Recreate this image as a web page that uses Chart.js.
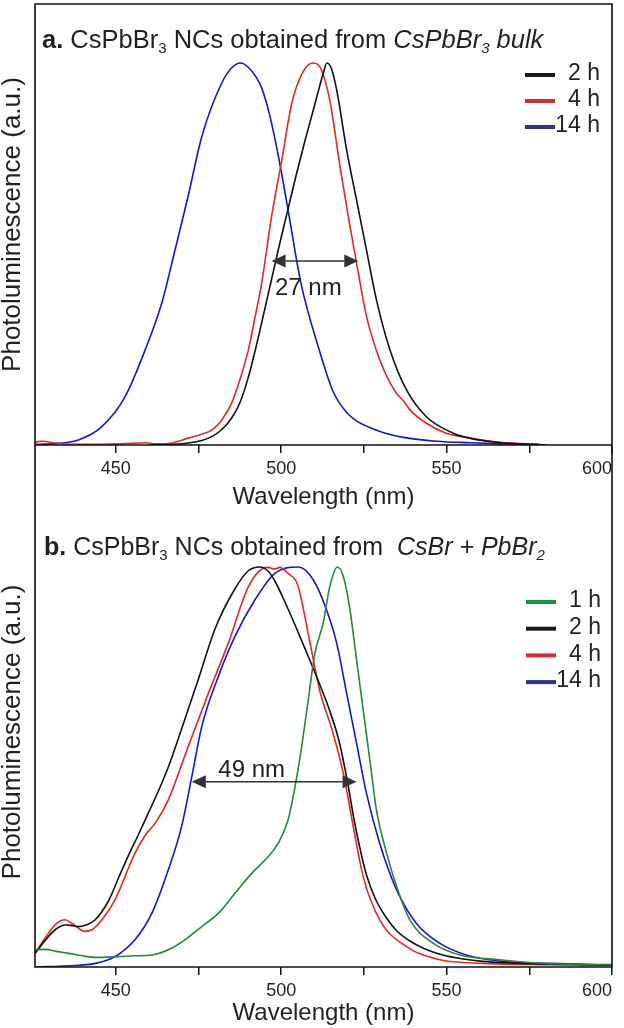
<!DOCTYPE html>
<html>
<head>
<meta charset="utf-8">
<script src="https://cdn.jsdelivr.net/npm/chart.js@4.4.1/dist/chart.umd.min.js"></script>
<style>
  body { margin: 0; background: #fff; }
  #wrap { position: relative; width: 624px; height: 1028px; }
  canvas { position: absolute; left: 0; }
</style>
</head>
<body>
<div id="wrap">
  <canvas id="chartA" width="624" height="530" style="top:0"></canvas>
  <canvas id="chartB" width="624" height="588" style="top:440px"></canvas>
</div>
<script>
const FONT = "'Liberation Sans', Arial, Helvetica, sans-serif";
const TEXT = '#231f20';

const xTicks = [450, 475, 500, 525, 550, 575, 600];
const xLabelled = [450, 500, 550, 600];

// panel a : CsPbBr3 bulk
const aLabels = ['2 h', '4 h', '14 h'];
const a2hNm = [460, 466, 470.9, 476, 479, 482, 485, 487.5, 490, 492.5, 494.5, 497, 499.5, 502, 504.5, 507, 509.5, 511.5, 512.8, 513.8, 515.2, 516.8, 519.8, 522.8, 525.8, 528.8, 532.9, 537.9, 543.9, 552, 557, 565, 572, 580];
const a2hPL = [0, 0.001, 0.004, 0.012, 0.022, 0.04, 0.07, 0.11, 0.175, 0.26, 0.335, 0.43, 0.525, 0.615, 0.705, 0.79, 0.87, 0.935, 0.975, 1.0, 0.985, 0.929, 0.772, 0.641, 0.51, 0.38, 0.249, 0.144, 0.074, 0.031, 0.018, 0.007, 0.003, 0];
const a4hNm = [425.6, 428, 431, 436, 445, 452, 459, 462, 466, 471.9, 476, 479, 482, 485, 487.5, 490.1, 492, 494.1, 497.1, 500.2, 503.2, 506.5, 509.7, 512, 514.7, 517.8, 520.3, 522.8, 525.8, 529.8, 532.5, 534.9, 537, 538.9, 543.9, 549.9, 557, 565, 572, 578];
const a4hPL = [0.008, 0.01, 0.006, 0.002, 0.002, 0.003, 0.006, 0.003, 0.004, 0.018, 0.028, 0.039, 0.065, 0.109, 0.17, 0.249, 0.33, 0.423, 0.598, 0.746, 0.894, 0.975, 1.0, 0.985, 0.903, 0.729, 0.598, 0.476, 0.336, 0.223, 0.17, 0.135, 0.115, 0.092, 0.057, 0.031, 0.018, 0.008, 0.004, 0.002];
const a14hNm = [425.6, 430.7, 438.7, 445.8, 452.8, 458.9, 463.9, 467.9, 471.9, 476, 482, 485, 487.8, 490.5, 492.5, 494.1, 496.5, 499.3, 502.1, 506, 511.5, 515.7, 519.8, 523, 527, 531, 536.9, 547, 557, 567, 578];
const a14hPL = [0.002, 0.003, 0.013, 0.048, 0.126, 0.249, 0.371, 0.51, 0.652, 0.807, 0.947, 0.987, 1.0, 0.985, 0.962, 0.935, 0.865, 0.75, 0.615, 0.423, 0.249, 0.14, 0.085, 0.062, 0.045, 0.032, 0.02, 0.01, 0.006, 0.003, 0.001];

// panel b : CsBr + PbBr2
const bLabels = ['1 h', '2 h', '4 h', '14 h'];
const b1hNm = [425.6, 428.6, 432, 435.7, 440, 443.8, 450.8, 455.8, 460.9, 465.9, 470.9, 476, 481, 486, 491.1, 496.1, 499.1, 502.1, 504.2, 506.2, 508.2, 510.2, 512.7, 514.7, 517, 518.8, 520.8, 522.8, 524.8, 526.8, 528.8, 531.9, 534.9, 538.9, 546, 554, 566, 581, 600];
const b1hPL = [0.043, 0.044, 0.039, 0.034, 0.028, 0.024, 0.026, 0.028, 0.03, 0.043, 0.068, 0.101, 0.134, 0.184, 0.234, 0.276, 0.309, 0.368, 0.451, 0.551, 0.668, 0.784, 0.86, 0.951, 1.0, 0.976, 0.893, 0.768, 0.643, 0.518, 0.393, 0.284, 0.201, 0.118, 0.059, 0.03, 0.018, 0.008, 0.006];
const b2hNm = [425.6, 429.6, 432, 434.7, 436.5, 438.7, 441, 443.8, 447.8, 450.8, 453.8, 456.8, 459.8, 462.9, 465.9, 469.9, 475, 480, 486, 490, 493.6, 496, 498.1, 501, 504.2, 507.5, 511, 514.5, 517.5, 520, 522, 524, 525.8, 528.5, 531.9, 535, 538.9, 543, 548, 555, 561, 576, 600];
const b2hPL = [0.034, 0.076, 0.095, 0.105, 0.104, 0.101, 0.105, 0.118, 0.165, 0.222, 0.278, 0.33, 0.384, 0.44, 0.5, 0.595, 0.72, 0.845, 0.945, 0.99, 1.0, 0.99, 0.965, 0.915, 0.855, 0.79, 0.72, 0.645, 0.565, 0.465, 0.37, 0.29, 0.23, 0.17, 0.122, 0.09, 0.065, 0.047, 0.032, 0.02, 0.014, 0.008, 0.005];
const b4hNm = [425.6, 429.6, 432, 434.7, 437, 440.7, 442.8, 446, 449.8, 455.8, 459, 461.9, 465.9, 471.9, 478, 484, 490.1, 494.6, 496.1, 498, 499.6, 502.1, 505, 508.5, 511.7, 515.5, 518.8, 521.8, 524.8, 529.8, 537.9, 548, 561, 580, 600];
const b4hPL = [0.034, 0.084, 0.108, 0.118, 0.108, 0.089, 0.093, 0.12, 0.168, 0.284, 0.33, 0.359, 0.418, 0.551, 0.684, 0.809, 0.951, 0.997, 0.999, 0.995, 0.999, 0.984, 0.955, 0.82, 0.69, 0.59, 0.484, 0.351, 0.226, 0.118, 0.051, 0.018, 0.009, 0.006, 0.005];
const b14hNm = [425.6, 435.7, 443.8, 449.8, 455.8, 460.9, 465.9, 469.9, 473, 476, 481, 486, 492.1, 498.1, 505.2, 509.7, 513.7, 516.8, 519.8, 522.8, 525.8, 529.8, 534.9, 540.9, 548, 556, 566, 581, 600];
const b14hPL = [0, 0.003, 0.009, 0.026, 0.068, 0.134, 0.243, 0.351, 0.476, 0.601, 0.726, 0.826, 0.918, 0.984, 1.0, 0.968, 0.893, 0.809, 0.684, 0.559, 0.434, 0.309, 0.193, 0.109, 0.059, 0.03, 0.015, 0.009, 0.005];

// FWHM arrows: [from nm, to nm, level, label, label nm, label level]
const aArrow = [497.1, 523.3, 0.482, '27 nm', 508.2, 0.393];
const bArrow = [473, 522.8, 0.463, '49 nm', 491.1, 0.475];

const pts = (nm, pl) => nm.map((x, i) => ({ x, y: pl[i] }));

function line(label, nm, pl, color, legendColor) {
	return {
		label,
		data: pts(nm, pl),
		borderColor: color,
		legendColor,
		borderWidth: 1.6,
		pointRadius: 0,
		cubicInterpolationMode: 'monotone',
		fill: false,
	};
}

const panelPlugin = {
	id: 'panel',
	afterDraw( chart, args, o ) {
		const { ctx, chartArea: ca, scales: { x, y } } = chart;
		ctx.save();

		// frame
		ctx.strokeStyle = '#111';
		ctx.lineWidth = 1.6;
		ctx.beginPath();
		ctx.moveTo( ca.left, o.frameTop );
		ctx.lineTo( ca.left, ca.bottom );
		ctx.lineTo( ca.right, ca.bottom );
		ctx.lineTo( ca.right, o.frameTop );
		if ( o.closed ) {
			ctx.closePath();
		}
		ctx.stroke();

		// title with bold / italic / subscript runs
		let tx = o.titleX;
		ctx.fillStyle = TEXT;
		ctx.textAlign = 'left';
		ctx.textBaseline = 'alphabetic';
		o.title.forEach( ( r ) => {
			const size = r.sub ? 15 : o.titleSize;
			ctx.font = ( r.italic ? 'italic ' : '' ) + ( r.bold ? 'bold ' : '' ) + size + 'px ' + FONT;
			ctx.fillText( r.t, tx, o.titleY + ( r.sub ? 5 : 0 ) );
			tx += ctx.measureText( r.t ).width;
		} );

		// legend
		chart.data.datasets.forEach( ( ds, i ) => {
			const ly = o.legendY + i * o.legendGap;
			ctx.strokeStyle = ds.legendColor;
			ctx.lineWidth = 4;
			ctx.beginPath();
			ctx.moveTo( o.legendX, ly );
			ctx.lineTo( o.legendX + 30, ly );
			ctx.stroke();
			ctx.font = '23px ' + FONT;
			ctx.textAlign = 'right';
			ctx.textBaseline = 'middle';
			ctx.fillText( ds.label, o.legendRight, ly - 1 );
		} );

		// FWHM arrow
		const [ from, to, level, text, textNm, textLevel ] = o.arrow;
		const x1 = x.getPixelForValue( from );
		const x2 = x.getPixelForValue( to );
		const ay = y.getPixelForValue( level );
		const head = 14;
		const half = 6.5;
		ctx.strokeStyle = '#333';
		ctx.fillStyle = '#333';
		ctx.lineWidth = 1.5;
		ctx.beginPath();
		ctx.moveTo( x1 + head, ay );
		ctx.lineTo( x2 - head, ay );
		ctx.stroke();
		ctx.beginPath();
		ctx.moveTo( x1, ay );
		ctx.lineTo( x1 + head, ay - half );
		ctx.lineTo( x1 + head, ay + half );
		ctx.closePath();
		ctx.fill();
		ctx.beginPath();
		ctx.moveTo( x2, ay );
		ctx.lineTo( x2 - head, ay - half );
		ctx.lineTo( x2 - head, ay + half );
		ctx.closePath();
		ctx.fill();
		ctx.font = '24px ' + FONT;
		ctx.textAlign = 'center';
		ctx.textBaseline = 'alphabetic';
		ctx.fillStyle = TEXT;
		ctx.fillText( text, x.getPixelForValue( textNm ), y.getPixelForValue( textLevel ) );

		ctx.restore();
	},
};

function makeChart( id, datasets, cfg ) {
	return new Chart( document.getElementById( id ), {
		type: 'line',
		data: { datasets },
		plugins: [ panelPlugin ],
		options: {
			responsive: false,
			animation: false,
			devicePixelRatio: 1,
			layout: { padding: { top: cfg.padTop, right: 12, left: 0, bottom: 0 } },
			plugins: {
				legend: { display: false },
				tooltip: { enabled: false },
				panel: cfg.panel,
			},
			scales: {
				x: {
					type: 'linear',
					min: 425.6,
					max: 600,
					// blank tick at the left edge so that 'inner' keeps "600" inside the frame
					afterBuildTicks: ( s ) => {
						s.ticks = [ { value: s.min } ].concat( xTicks.map( ( v ) => ( { value: v } ) ) );
					},
					afterFit: ( s ) => {
						s.height = cfg.xHeight;
						s.paddingLeft = 0;
						s.paddingRight = 0;
					},
					ticks: {
						autoSkip: false,
						maxRotation: 0,
						align: 'inner',
						padding: 5,
						color: TEXT,
						font: { family: FONT, size: 18 },
						callback: ( v ) => ( xLabelled.includes( v ) ? String( v ) : '' ),
					},
					grid: {
						drawOnChartArea: false,
						drawTicks: true,
						tickLength: 8,
						color: ( c ) => ( c.tick && xTicks.includes( c.tick.value ) ? '#111' : 'rgba(0,0,0,0)' ),
						lineWidth: 1.5,
					},
					border: { display: false },
					title: {
						display: true,
						text: 'Wavelength (nm)',
						color: TEXT,
						font: { family: FONT, size: 24 },
						padding: { top: 0, bottom: cfg.xTitlePad },
					},
				},
				y: {
					min: 0,
					max: cfg.yMax,
					afterFit: ( s ) => {
						s.width = 35;
					},
					ticks: { display: false },
					grid: { display: false },
					border: { display: false },
					title: {
						display: true,
						text: 'Photoluminescence (a.u.)',
						color: TEXT,
						font: { family: FONT, size: 26, lineHeight: 1 },
						padding: 0,
					},
				},
			},
		},
	} );
}

makeChart( 'chartA', [
	line( aLabels[ 0 ], a2hNm, a2hPL, '#111111', '#1a1a1a' ),
	line( aLabels[ 1 ], a4hNm, a4hPL, '#e8251f', '#d42a30' ),
	line( aLabels[ 2 ], a14hNm, a14hPL, '#1515d6', '#2e3192' ),
], {
	padTop: 4,
	xHeight: 85,
	xTitlePad: 18,
	yMax: 1.1545,
	panel: {
		frameTop: 4,
		closed: true,
		titleX: 42,
		titleY: 48,
		titleSize: 25.5,
		title: [
			{ t: 'a.', bold: true },
			{ t: ' CsPbBr' },
			{ t: '3', sub: true },
			{ t: ' NCs obtained from ' },
			{ t: 'CsPbBr', italic: true },
			{ t: '3', italic: true, sub: true },
			{ t: ' bulk', italic: true },
		],
		legendX: 525,
		legendY: 75,
		legendGap: 26,
		legendRight: 600,
		arrow: aArrow,
	},
} );

makeChart( 'chartB', [
	line( bLabels[ 0 ], b1hNm, b1hPL, '#24883a', '#0f9548' ),
	line( bLabels[ 1 ], b2hNm, b2hPL, '#111111', '#1a1a1a' ),
	line( bLabels[ 2 ], b4hNm, b4hPL, '#e8251f', '#d42a30' ),
	line( bLabels[ 3 ], b14hNm, b14hPL, '#1515d6', '#2e3192' ),
], {
	padTop: 57,
	xHeight: 61,
	xTitlePad: 0,
	yMax: 1.175,
	panel: {
		frameTop: 5,
		closed: false,
		titleX: 44,
		titleY: 115,
		titleSize: 25,
		title: [
			{ t: 'b.', bold: true },
			{ t: ' CsPbBr' },
			{ t: '3', sub: true },
			{ t: ' NCs obtained from  ' },
			{ t: 'CsBr + PbBr', italic: true },
			{ t: '2', italic: true, sub: true },
		],
		legendX: 526,
		legendY: 162,
		legendGap: 26.7,
		legendRight: 601,
		arrow: bArrow,
	},
} );
</script>
</body>
</html>
